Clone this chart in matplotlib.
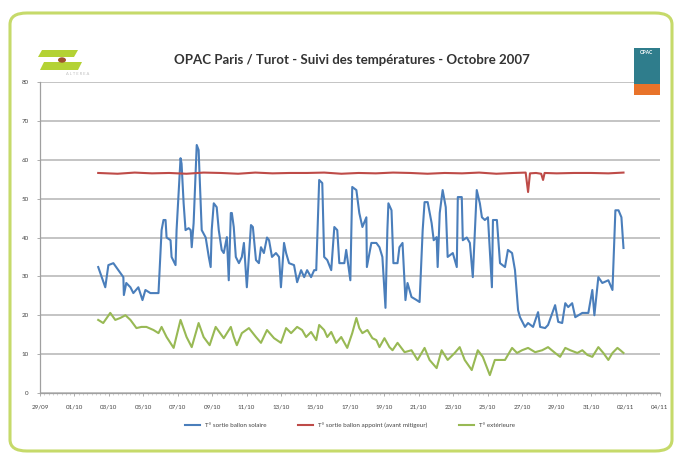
import pandas as pd
import matplotlib.pyplot as plt
import matplotlib.dates as mdates
from matplotlib.patches import FancyBboxPatch, Rectangle, Polygon, Circle

# Jours depuis le 01/10/2007 00:00 et températures (°C)
solaire_jours = [1.38, 1.79, 1.97, 2.26, 2.55, 2.84, 2.87, 3.01, 3.25, 3.42,
                 3.71, 3.95, 4.12, 4.41, 4.88, 5.06, 5.17, 5.29, 5.35, 5.58,
                 5.64, 5.87, 5.93, 6.16, 6.22, 6.34, 6.45, 6.63, 6.75, 6.81,
                 6.92, 7.10, 7.21, 7.33, 7.39, 7.62, 7.80, 7.91, 7.97, 8.09,
                 8.26, 8.38, 8.55, 8.67, 8.85, 8.96, 9.08, 9.14, 9.25, 9.37,
                 9.55, 9.72, 9.84, 10.01, 10.25, 10.36, 10.54, 10.71, 10.83, 11.00,
                 11.18, 11.30, 11.47, 11.70, 11.88, 11.99, 12.17, 12.29, 12.46, 12.75,
                 12.93, 13.16, 13.34, 13.51, 13.74, 13.92, 14.04, 14.21, 14.39, 14.50,
                 14.68, 14.91, 15.09, 15.26, 15.38, 15.67, 15.78, 16.02, 16.13, 16.37,
                 16.54, 16.72, 16.95, 16.98, 17.24, 17.53, 17.71, 17.88, 18.06, 18.17,
                 18.23, 18.41, 18.52, 18.76, 18.87, 19.05, 19.22, 19.34, 19.57, 19.87,
                 20.04, 20.22, 20.33, 20.51, 20.74, 20.86, 21.03, 21.09, 21.21, 21.38,
                 21.56, 21.67, 21.97, 22.20, 22.26, 22.49, 22.55, 22.78, 22.96, 23.13,
                 23.36, 23.54, 23.66, 23.83, 24.01, 24.24, 24.30, 24.53, 24.71, 25.00,
                 25.17, 25.41, 25.58, 25.76, 25.87, 26.16, 26.34, 26.63, 26.92, 27.04,
                 27.33, 27.50, 27.91, 28.09, 28.32, 28.50, 28.67, 28.90, 29.08, 29.49,
                 29.84, 30.07, 30.19, 30.42, 30.65, 31.00, 31.24, 31.41, 31.59, 31.76,
                 31.88]
solaire_temp = [32.4, 27.2, 32.9, 33.4, 31.6, 29.8, 25.2, 28.3, 27.2, 25.7,
                27.2, 23.9, 26.5, 25.7, 25.7, 41.9, 44.5, 44.5, 40.0, 39.3,
                35.0, 32.9, 41.9, 60.4, 59.0, 48.8, 41.9, 42.4, 41.9, 37.5,
                43.7, 63.8, 62.5, 48.8, 41.9, 40.0, 35.0, 32.4, 41.9, 48.8,
                47.8, 41.9, 36.8, 36.0, 40.1, 29.0, 46.3, 46.3, 42.7, 35.0,
                33.4, 35.0, 38.6, 27.2, 43.2, 42.7, 34.2, 33.4, 37.5, 36.0,
                40.0, 39.3, 35.0, 36.0, 35.0, 27.2, 38.6, 36.0, 33.4, 32.9,
                28.5, 31.6, 29.8, 31.6, 29.8, 31.6, 31.6, 54.8, 54.0, 35.0,
                34.2, 31.6, 42.7, 41.9, 33.4, 33.4, 36.8, 29.0, 53.0, 52.2,
                46.3, 42.7, 45.2, 32.4, 38.6, 38.6, 37.5, 35.0, 21.9, 41.9,
                48.8, 47.0, 33.4, 33.4, 37.5, 38.6, 23.9, 28.3, 24.7, 23.9,
                23.4, 41.9, 49.1, 49.1, 43.7, 39.3, 40.1, 32.4, 46.3, 52.2,
                47.8, 35.0, 36.0, 32.4, 50.4, 50.4, 39.3, 40.0, 38.6, 29.8,
                52.2, 48.8, 45.2, 44.5, 45.2, 27.2, 44.5, 44.5, 33.4, 32.4,
                36.8, 36.0, 31.6, 21.3, 19.5, 17.0, 18.0, 17.0, 20.8, 17.0,
                16.7, 17.5, 22.6, 18.3, 18.0, 23.1, 22.1, 23.1, 19.5, 20.6,
                20.6, 26.5, 20.0, 29.8, 28.3, 29.0, 26.5, 47.0, 47.0, 45.2,
                37.3]

appoint_jours = [1.38, 2.5, 3.5, 4.5, 5.5, 6.5, 7.5, 8.5, 9.5, 10.5,
                 11.5, 12.5, 13.5, 14.5, 15.5, 16.5, 17.5, 18.5, 19.5, 20.5,
                 21.5, 22.5, 23.5, 24.5, 25.5, 26.2, 26.34, 26.45, 26.8, 27.1,
                 27.21, 27.3, 28.0, 29.0, 30.0, 31.0, 31.88]
appoint_temp = [56.6, 56.4, 56.7, 56.5, 56.6, 56.4, 56.7, 56.6, 56.4, 56.7,
                56.5, 56.6, 56.6, 56.7, 56.4, 56.6, 56.5, 56.7, 56.6, 56.4,
                56.6, 56.5, 56.7, 56.4, 56.6, 56.7, 51.7, 56.5, 56.6, 56.4,
                54.8, 56.6, 56.5, 56.6, 56.6, 56.5, 56.7]

ext_jours = [1.38, 1.67, 2.08, 2.37, 2.66, 2.96, 3.25, 3.60, 3.89, 4.18,
             4.59, 4.88, 5.06, 5.35, 5.76, 6.16, 6.51, 6.81, 7.21, 7.50,
             7.85, 8.20, 8.67, 9.08, 9.25, 9.43, 9.72, 10.13, 10.54, 10.83,
             11.18, 11.59, 11.99, 12.29, 12.58, 12.93, 13.22, 13.45, 13.74, 14.04,
             14.21, 14.50, 14.68, 14.91, 15.20, 15.49, 15.84, 16.13, 16.37, 16.54,
             16.72, 17.01, 17.30, 17.53, 17.71, 18.00, 18.29, 18.47, 18.76, 19.17,
             19.57, 19.92, 20.33, 20.62, 21.03, 21.32, 21.67, 22.08, 22.37, 22.66,
             23.07, 23.42, 23.71, 24.12, 24.41, 24.82, 25.00, 25.41, 25.70, 25.99,
             26.34, 26.75, 27.16, 27.50, 27.91, 28.20, 28.50, 28.79, 29.20, 29.49,
             29.78, 30.07, 30.42, 30.71, 31.00, 31.24, 31.53, 31.70, 31.88]
ext_temp = [18.8, 18.0, 20.6, 18.8, 19.3, 20.0, 18.8, 16.7, 17.0, 17.0,
            16.2, 15.4, 17.0, 14.4, 11.6, 18.8, 14.4, 11.8, 18.0, 14.4,
            12.3, 17.0, 14.1, 17.0, 14.4, 12.3, 15.4, 16.7, 14.4, 12.9,
            16.2, 14.1, 12.9, 16.7, 15.4, 17.0, 16.2, 14.4, 15.7, 13.6,
            17.5, 16.2, 14.4, 15.7, 12.9, 14.4, 11.6, 15.4, 19.3, 16.7,
            15.4, 16.2, 14.1, 13.6, 11.8, 14.1, 11.8, 11.0, 12.9, 10.5,
            11.0, 8.5, 11.6, 8.5, 6.4, 11.0, 8.5, 10.3, 11.8, 8.5,
            5.9, 11.0, 9.3, 4.6, 8.5, 8.5, 8.5, 11.6, 10.3, 11.0,
            11.6, 10.5, 11.0, 11.8, 10.3, 9.3, 11.6, 11.0, 10.3, 11.0,
            9.8, 9.3, 11.8, 10.3, 8.5, 10.3, 11.6, 11.0, 10.3]

tick_labels = ["29/09", "01/10", "03/10", "05/10", "07/10", "09/10", "11/10",
               "13/10", "15/10", "17/10", "19/10", "21/10", "23/10", "25/10",
               "27/10", "29/10", "31/10", "02/11", "04/11"]

series = [
    ("T° sortie ballon solaire", solaire_jours, solaire_temp, "#4a7ebb"),
    ("T° sortie ballon appoint (avant mitigeur)", appoint_jours, appoint_temp, "#be4b48"),
    ("T° extérieure", ext_jours, ext_temp, "#98b954"),
]

debut = pd.Timestamp("2007-10-01")


def to_dates(jours):
    return debut + pd.to_timedelta(jours, unit="D")


plt.rcParams["font.family"] = ["Lato", "DejaVu Sans"]

fig = plt.figure(figsize=(6.79, 4.57), dpi=100)
W, H = 679, 457

# cadre arrondi vert
cadre = FancyBboxPatch((10 / W, 6 / H), 662 / W, 438 / H,
                       boxstyle="round,pad=0,rounding_size=0.025",
                       transform=fig.transFigure, fill=False,
                       edgecolor="#c6da6a", linewidth=2.2)
fig.patches.append(cadre)

ax = fig.add_axes([40 / W, 1 - 393 / H, 620 / W, 311 / H])

for nom, jours, temp, couleur in series:
    ax.plot(to_dates(jours), temp, color=couleur, linewidth=1.5, label=nom)

ax.set_ylim(0, 80)
ax.set_yticks(range(0, 81, 10))
ax.set_xlim(pd.Timestamp("2007-09-29"), pd.Timestamp("2007-11-04"))
tick_dates = pd.date_range("2007-09-29", "2007-11-04", freq="2D")
ax.set_xticks(tick_dates)
ax.set_xticklabels(tick_labels)
ax.xaxis.set_minor_locator(mdates.HourLocator(interval=6))

ax.grid(axis="y", color="#b4b4b4", linewidth=1.1)
ax.set_axisbelow(True)
for s in ["top", "right"]:
    ax.spines[s].set_visible(False)
for s in ["left", "bottom"]:
    ax.spines[s].set_color("#a0a0a0")
    ax.spines[s].set_linewidth(0.9)
ax.tick_params(axis="both", labelsize=4.5, colors="#a0a0a0", labelcolor="#444444",
               length=2, width=0.6, pad=6)
ax.tick_params(axis="x", which="minor", length=1.2, width=0.4, colors="#b0b0b0")

fig.text(352 / W, 1 - 60 / H, "OPAC Paris / Turot - Suivi des températures - Octobre 2007",
         ha="center", va="center", fontsize=9.5, fontweight="bold", color="#333333")

# logo gauche
fig.patches.append(Polygon([(42 / W, 1 - 50 / H), (78 / W, 1 - 50 / H), (74 / W, 1 - 57 / H),
                            (38 / W, 1 - 57 / H)], closed=True, transform=fig.transFigure,
                           facecolor="#b4d234", edgecolor="none"))
fig.patches.append(Polygon([(44 / W, 1 - 62 / H), (82 / W, 1 - 62 / H), (78 / W, 1 - 70 / H),
                            (40 / W, 1 - 70 / H)], closed=True, transform=fig.transFigure,
                           facecolor="#b4d234", edgecolor="none"))
fig.patches.append(Circle((62 / W, 1 - 60 / H), 4 / W, transform=fig.transFigure,
                          facecolor="#a0522d", edgecolor="none"))
fig.text(78 / W, 1 - 74 / H, "A L T E R E A", ha="center", va="center",
         fontsize=3, color="#c0c0c0")

# logo droit
fig.patches.append(Rectangle((634 / W, 1 - 84 / H), 26 / W, 36 / H, transform=fig.transFigure,
                             facecolor="#2f7d8c", edgecolor="none"))
fig.patches.append(Rectangle((634 / W, 1 - 95 / H), 26 / W, 11 / H, transform=fig.transFigure,
                             facecolor="#e8732a", edgecolor="none"))
fig.text(647 / W, 1 - 53 / H, "OPAC", ha="center", va="center", fontsize=3.5,
         color="white", fontweight="bold")

fig.legend(loc="center", bbox_to_anchor=(350 / W, 1 - 425 / H), ncol=3, frameon=False,
           fontsize=4.5, handlelength=2.4, columnspacing=5, labelcolor="#444444")

fig.savefig("out.png", dpi=100)
